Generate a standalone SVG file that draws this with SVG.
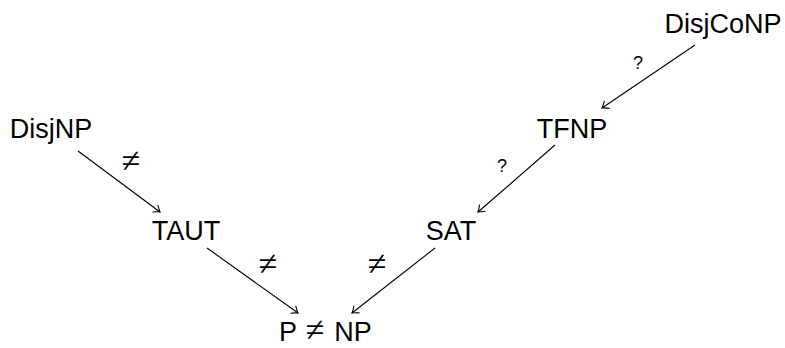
<svg xmlns="http://www.w3.org/2000/svg" width="785" height="348" viewBox="0 0 785 348">
<defs>
<style>
.n{font-family:"Liberation Sans","DejaVu Sans",sans-serif;font-size:27px;fill:#000;text-anchor:middle}
.q{font-family:"Liberation Sans","DejaVu Sans",sans-serif;font-size:18px;fill:#000;text-anchor:middle}
.ne{font-family:"Liberation Serif","DejaVu Serif",serif;font-size:34px;fill:#000;text-anchor:middle}
.e{stroke:#000;stroke-width:1.1;fill:none;marker-end:url(#to)}
</style>
<marker id="to" markerUnits="userSpaceOnUse" markerWidth="14" markerHeight="14" viewBox="-8 -7 10 14" refX="0" refY="0" orient="auto">
<path d="M -6 -4.5 Q -2 -1 0 0 Q -2 1 -6 4.5" fill="none" stroke="#000" stroke-width="1.1"/>
</marker>
</defs>
<rect width="785" height="348" fill="#fff"/>
<g id="edges">
<line class="e" x1="78" y1="151" x2="160" y2="212"/>
<line class="e" x1="207" y1="248" x2="298" y2="313"/>
<line class="e" x1="435" y1="248" x2="352" y2="313"/>
<line class="e" x1="555" y1="145" x2="478" y2="212"/>
<line class="e" x1="695" y1="45" x2="602" y2="108"/>
<text class="ne" x="131" y="172">≠</text>
<text class="ne" x="268" y="275">≠</text>
<text class="ne" x="377" y="275">≠</text>
<text class="q" x="502" y="172">?</text>
<text class="q" x="638" y="69">?</text>
</g>
<g id="DisjNP"><text class="n" x="51" y="138">DisjNP</text></g>
<g id="TAUT"><text class="n" x="186" y="240">TAUT</text></g>
<g id="PneqNP"><text class="n" x="288" y="341">P</text><text class="ne" x="315" y="341">≠</text><text class="n" x="353" y="341">NP</text></g>
<g id="SAT"><text class="n" x="451" y="240">SAT</text></g>
<g id="TFNP"><text class="n" x="572" y="138">TFNP</text></g>
<g id="DisjCoNP"><text class="n" x="723" y="33">DisjCoNP</text></g>
</svg>
